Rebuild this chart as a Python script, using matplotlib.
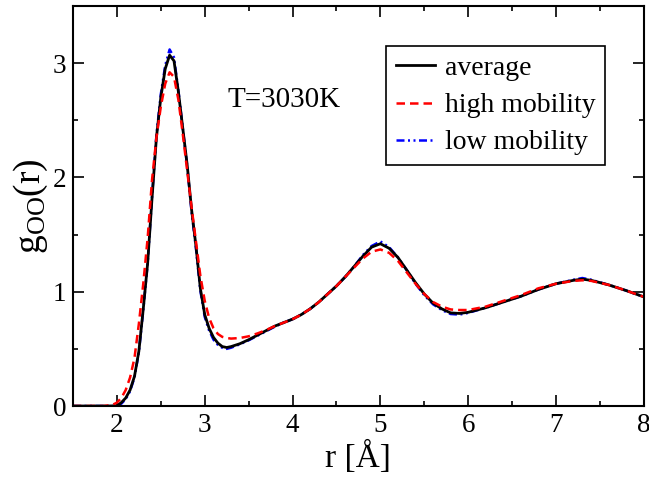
import matplotlib
matplotlib.use('Agg')
import matplotlib.pyplot as plt
from matplotlib.ticker import MultipleLocator

plt.rcParams['font.family'] = ['Liberation Serif', 'DejaVu Serif']
plt.rcParams['mathtext.fontset'] = 'custom'
plt.rcParams['mathtext.rm'] = 'Liberation Serif'
plt.rcParams['mathtext.it'] = 'Liberation Serif:italic'

# g_OO(r)
r_avg = [1.5, 1.9, 2.0, 2.05, 2.1, 2.15, 2.2, 2.25, 2.3, 2.35, 2.4, 2.45, 2.5, 2.55, 2.6,
         2.65, 2.7, 2.75, 2.8, 2.85, 2.9, 2.95, 3.0, 3.05, 3.1, 3.15, 3.2, 3.25, 3.3, 3.4,
         3.5, 3.6, 3.7, 3.8, 3.9, 4.0, 4.1, 4.2, 4.3, 4.4, 4.5, 4.6, 4.7, 4.8, 4.9, 5.0,
         5.1, 5.2, 5.3, 5.4, 5.5, 5.6, 5.7, 5.8, 5.9, 6.0, 6.2, 6.4, 6.6, 6.8, 7.0, 7.2,
         7.3, 7.4, 7.6, 7.8, 8.0]
g_avg = [0, 0, 0.002, 0.03, 0.07, 0.14, 0.26, 0.48, 0.85, 1.25, 1.82, 2.35, 2.70, 2.95, 3.07,
         3.02, 2.75, 2.43, 2.11, 1.72, 1.40, 1.03, 0.80, 0.68, 0.60, 0.55, 0.52, 0.512, 0.52, 0.545,
         0.58, 0.62, 0.66, 0.70, 0.73, 0.76, 0.80, 0.85, 0.91, 0.98, 1.05, 1.13, 1.22, 1.31, 1.39, 1.42,
         1.38, 1.30, 1.19, 1.08, 0.98, 0.90, 0.85, 0.815, 0.81, 0.82, 0.86, 0.91, 0.96, 1.02, 1.07, 1.10,
         1.11, 1.10, 1.06, 1.01, 0.955]

r_high = [1.5, 1.85, 1.95, 2.0, 2.05, 2.1, 2.15, 2.2, 2.25, 2.3, 2.35, 2.4, 2.45, 2.5, 2.55,
          2.6, 2.65, 2.7, 2.75, 2.8, 2.85, 2.9, 2.95, 3.0, 3.05, 3.1, 3.15, 3.2, 3.25, 3.3,
          3.4, 3.5, 3.6, 3.7, 3.8, 3.9, 4.0, 4.1, 4.2, 4.3, 4.4, 4.5, 4.6, 4.7, 4.8, 4.9,
          5.0, 5.1, 5.2, 5.3, 5.4, 5.5, 5.6, 5.7, 5.8, 5.9, 6.0, 6.2, 6.4, 6.6, 6.8, 7.0,
          7.2, 7.3, 7.4, 7.6, 7.8, 8.0]
g_high = [0, 0, 0.01, 0.03, 0.07, 0.14, 0.25, 0.42, 0.72, 1.07, 1.47, 1.98, 2.35, 2.62, 2.82,
          2.92, 2.88, 2.68, 2.38, 2.06, 1.74, 1.44, 1.14, 0.92, 0.77, 0.68, 0.63, 0.605, 0.595, 0.59,
          0.595, 0.61, 0.635, 0.665, 0.70, 0.73, 0.76, 0.80, 0.85, 0.91, 0.98, 1.05, 1.13, 1.21, 1.29, 1.35,
          1.37, 1.34, 1.27, 1.17, 1.07, 0.98, 0.91, 0.87, 0.845, 0.84, 0.84, 0.87, 0.92, 0.97, 1.03, 1.07,
          1.095, 1.10, 1.095, 1.06, 1.01, 0.955]

r_low = r_avg
g_low = [0, 0, 0.0, 0.02, 0.06, 0.13, 0.25, 0.47, 0.84, 1.25, 1.83, 2.37, 2.73, 2.98, 3.12,
         3.05, 2.76, 2.43, 2.10, 1.70, 1.38, 1.01, 0.78, 0.66, 0.58, 0.535, 0.51, 0.50, 0.51, 0.54,
         0.575, 0.615, 0.655, 0.695, 0.73, 0.76, 0.80, 0.85, 0.91, 0.98, 1.05, 1.13, 1.22, 1.32, 1.40, 1.44,
         1.39, 1.30, 1.19, 1.07, 0.97, 0.89, 0.84, 0.805, 0.80, 0.815, 0.86, 0.91, 0.96, 1.02, 1.07, 1.105,
         1.12, 1.105, 1.06, 1.01, 0.955]

fig = plt.figure(figsize=(6.49, 4.78), dpi=100)
ax = fig.add_axes([0.1125, 0.1506, 0.8795, 0.8368])

l_low, = ax.plot(r_low, g_low, color='#0000ff', lw=1.8,
                 linestyle=(0, (3.2, 1.4, 0.8, 1.4, 0.8, 1.4)), label='low mobility')
l_avg, = ax.plot(r_avg, g_avg, color='k', lw=2.0, label='average')
l_high, = ax.plot(r_high, g_high, color='#ff0000', lw=1.8,
                  linestyle=(0, (3.4, 2.0)), label='high mobility')

ax.set_xlim(1.5, 8)
ax.set_ylim(0, 3.5)
ax.xaxis.set_major_locator(MultipleLocator(1))
ax.xaxis.set_minor_locator(MultipleLocator(0.5))
ax.yaxis.set_major_locator(MultipleLocator(1))
ax.yaxis.set_minor_locator(MultipleLocator(0.5))
ax.tick_params(which='both', direction='in', top=True, right=True, width=1.2,
               labelsize=19.5, pad=5)
ax.tick_params(which='major', length=8)
ax.tick_params(which='minor', length=3.5)
for s in ax.spines.values():
    s.set_linewidth(1.5)

ax.set_xlabel('r [Å]', fontsize=24, labelpad=2)
ax.set_ylabel(r'g$_{\mathrm{OO}}$(r)', fontsize=27, labelpad=2)

ax.text(3.26, 2.68, 'T=3030K', fontsize=21, va='center', ha='left')

leg = ax.legend(handles=[l_avg, l_high, l_low], loc='upper left',
                bbox_to_anchor=(0.549, 0.9), fontsize=20, frameon=True,
                fancybox=False, edgecolor='k', framealpha=1,
                handlelength=1.4, handletextpad=0.35, labelspacing=0.42,
                borderpad=0.35, borderaxespad=0)
leg.get_frame().set_linewidth(1.2)

fig.savefig('out.png', dpi=100)
